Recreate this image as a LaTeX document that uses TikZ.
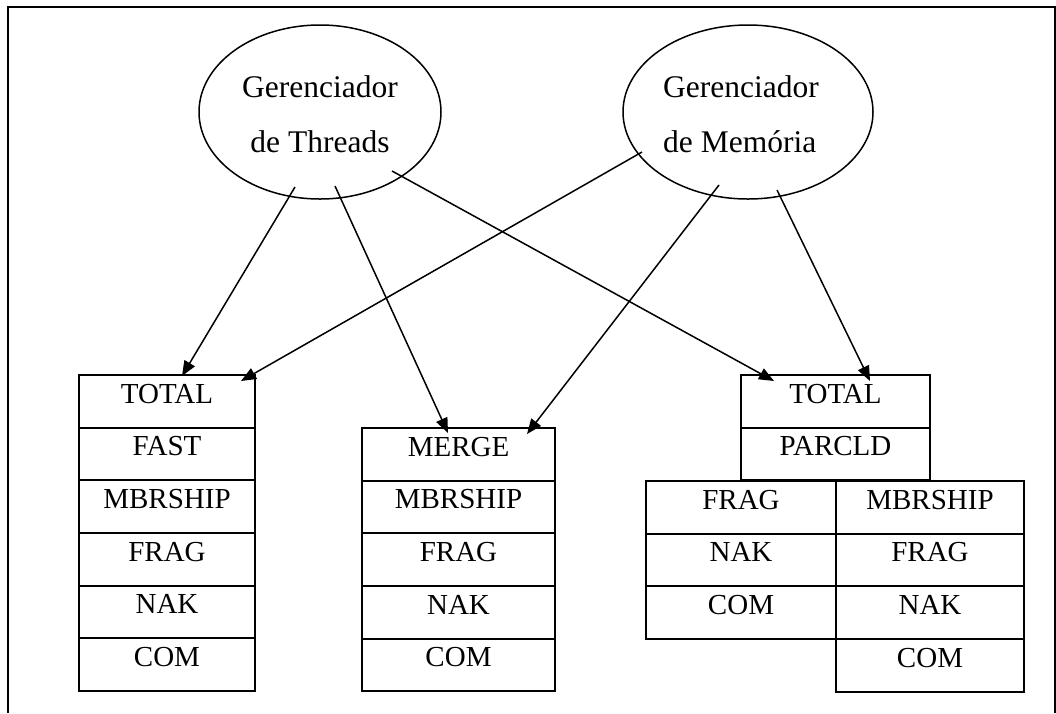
\documentclass[tikz,border=0pt]{standalone}
\usepackage{fontspec}
\setmainfont{Liberation Serif}
\usetikzlibrary{shapes.geometric,arrows.meta}

\begin{document}
\begin{tikzpicture}[x=1pt,y=-1pt,
  cell/.style={draw, line width=2pt, rectangle, inner xsep=0pt, inner ysep=0pt,
    outer sep=0pt, text height=28pt, text depth=24.67pt, anchor=north west,
    font=\fontsize{29}{29}\selectfont},
  mgr/.style={draw, ellipse, line width=1.5pt, inner sep=0pt, outer sep=0pt,
    minimum height=174pt},
  mgrtext/.style={inner sep=0pt, font=\fontsize{31.5}{55}\selectfont},
  link/.style={line width=1.5pt, -{Triangle[length=15pt,width=12pt]}}
]
\useasboundingbox (0,0) rectangle (1056,713);

% outer frame
\draw[line width=2pt] (8,713) -- (8,7) -- (1055,7) -- (1055,713);

% managers
\node[mgr, minimum width=242pt] (mt) at (320,112) {};
\node[mgrtext, anchor=north, align=center] (mtt) at (320,75.5) {Gerenciador\\de Threads};
\node[mgr, minimum width=250pt] (mm) at (748,112) {};
\node[mgrtext, anchor=north west, align=left] (mmt) at (663,75.5) {Gerenciador\\de Mem\'oria};

% left stack
\begin{scope}[every node/.append style={minimum width=176pt}]
\node[cell] (l1) at (79,375) {TOTAL};
\node[cell] (l2) at (l1.south west) {FAST};
\node[cell] (l3) at (l2.south west) {MBRSHIP};
\node[cell] (l4) at (l3.south west) {FRAG};
\node[cell] (l5) at (l4.south west) {NAK};
\node[cell] (l6) at (l5.south west) {COM};
\end{scope}

% middle stack
\begin{scope}[every node/.append style={minimum width=193pt}]
\node[cell] (m1) at (362,428) {MERGE};
\node[cell] (m2) at (m1.south west) {MBRSHIP};
\node[cell] (m3) at (m2.south west) {FRAG};
\node[cell] (m4) at (m3.south west) {NAK};
\node[cell] (m5) at (m4.south west) {COM};
\end{scope}

% right tree: head
\begin{scope}[every node/.append style={minimum width=189pt}]
\node[cell] (r1) at (741,375) {TOTAL};
\node[cell] (r2) at (r1.south west) {PARCLD};
\end{scope}

% right tree: left branch
\begin{scope}[every node/.append style={minimum width=190pt}]
\node[cell] (ra1) at (646,481) {FRAG};
\node[cell] (ra2) at (ra1.south west) {NAK};
\node[cell] (ra3) at (ra2.south west) {COM};
\end{scope}

% right tree: right branch
\begin{scope}[every node/.append style={minimum width=188pt}]
\node[cell] (rb1) at (836,481) {MBRSHIP};
\node[cell] (rb2) at (rb1.south west) {FRAG};
\node[cell] (rb3) at (rb2.south west) {NAK};
\node[cell] (rb4) at (rb3.south west) {COM};
\end{scope}

% connector end points
\coordinate (a1s) at ([shift={(-25,75)}]mt.center);
\coordinate (a2s) at ([shift={(15,74)}]mt.center);
\coordinate (a3s) at ([shift={(72,59)}]mt.center);
\coordinate (a4s) at ([shift={(-106,40)}]mm.center);
\coordinate (a5s) at ([shift={(-29,73)}]mm.center);
\coordinate (a6s) at ([shift={(29,78)}]mm.center);

\coordinate (a1e) at ([shift={(15,1)}]l1.north);
\coordinate (a2e) at ([shift={(-10.5,5)}]m1.north);
\coordinate (a3e) at ([shift={(-61.5,6)}]r1.north);
\coordinate (a4e) at ([shift={(74,6)}]l1.north);
\coordinate (a5e) at ([shift={(68.5,6)}]m1.north);
\coordinate (a6e) at ([shift={(34.5,6)}]r1.north);

% connectors
\draw[link] (a1s) -- (a1e);
\draw[link] (a2s) -- (a2e);
\draw[link] (a3s) -- (a3e);
\draw[link] (a4s) -- (a4e);
\draw[link] (a5s) -- (a5e);
\draw[link] (a6s) -- (a6e);
\end{tikzpicture}
\end{document}
